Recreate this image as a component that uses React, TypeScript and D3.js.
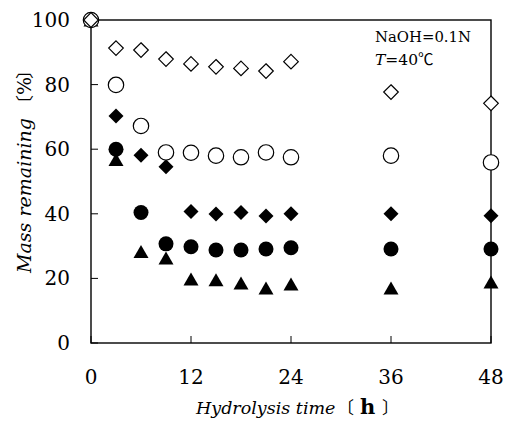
import React from "react";
import * as d3 from "d3";

const hours = [0, 3, 6, 9, 12, 15, 18, 21, 24, 36, 48];
const openDiamond = [100, 91.3, 90.7, 87.9, 86.4, 85.5, 85, 84.2, 87.1, 77.7, 74.2];
const openCircle = [100, 79.9, 67.2, 59, 58.9, 58, 57.5, 59, 57.5, 58, 55.9];
const filledDiamond = [100, 70.3, 58.1, 54.6, 40.7, 39.9, 40.4, 39.3, 40, 40, 39.4];
const filledCircle = [100, 60, 40.4, 30.7, 29.8, 28.8, 28.8, 29.1, 29.5, 29.1, 29.1];
const filledTriangle = [100, 56.8, 28.3, 26.3, 19.8, 19.6, 18.6, 17, 18.3, 17, 18.9];

const xTicks = [0, 12, 24, 36, 48];
const yTicks = [0, 20, 40, 60, 80, 100];

const W = 506;
const H = 421;
const FONT = "'DejaVu Serif', 'Liberation Serif', serif";
const CJK = "'Noto Sans CJK JP', serif";

export default function App() {
  const x = d3.scaleLinear().domain([0, 48]).range([91, 491]);
  const y = d3.scaleLinear().domain([0, 100]).range([343, 20]);
  const x0 = x(0), x1 = x(48), y0 = y(0), y1 = y(100);

  const diamond = (cx: number, cy: number, r: number) =>
    `M${cx},${cy - r}L${cx + r},${cy}L${cx},${cy + r}L${cx - r},${cy}Z`;
  const triangle = (cx: number, cy: number, w: number, h: number) =>
    `M${cx},${cy - h / 2}L${cx + w / 2},${cy + h / 2}L${cx - w / 2},${cy + h / 2}Z`;

  return (
    <svg width={W} height={H} style={{ position: "absolute", left: 0, top: 0, background: "#fff" }}>
      <rect x={0} y={0} width={W} height={H} fill="#fff" />
      {/* frame */}
      <rect x={x0} y={y1} width={x1 - x0} height={y0 - y1} fill="none" stroke="#000" strokeWidth={1.4} />
      {/* y ticks */}
      {yTicks.map((t) => (
        <g key={"y" + t}>
          <line x1={x0} x2={x0 + 7} y1={y(t)} y2={y(t)} stroke="#000" strokeWidth={1} />
          <text x={70} y={y(t) + 7} textAnchor="end" fontFamily={FONT} fontSize={20} fill="#000">
            {t}
          </text>
        </g>
      ))}
      {/* x ticks */}
      {xTicks.map((t) => (
        <g key={"x" + t}>
          <line x1={x(t)} x2={x(t)} y1={y0} y2={y0 - 7} stroke="#000" strokeWidth={1} />
          <text x={x(t)} y={384} textAnchor="middle" fontFamily={FONT} fontSize={20} fill="#000">
            {t}
          </text>
        </g>
      ))}
      {/* x axis title */}
      <text y={414} fontFamily={FONT} fontSize={19} fill="#000">
        <tspan x={196} fontStyle="italic" fontSize={17.5}>
          Hydrolysis time
        </tspan>
        <tspan x={337} fontFamily={CJK} fontSize={17}>〔</tspan>
        <tspan x={360} fontWeight="bold" fontSize={21}>h</tspan>
        <tspan x={382} fontFamily={CJK} fontSize={17}>〕</tspan>
      </text>
      {/* y axis title */}
      <text transform="translate(31,273) rotate(-90)" y={0} fontFamily={FONT} fontSize={19} fill="#000">
        <tspan x={0} fontStyle="italic" textLength={155} lengthAdjust="spacingAndGlyphs">
          Mass remaining
        </tspan>
        <tspan x={160} fontFamily={CJK} fontSize={18}>〔</tspan>
        <tspan x={178}>%</tspan>
        <tspan x={194} fontFamily={CJK} fontSize={18}>〕</tspan>
      </text>
      {/* annotation */}
      <text x={375} y={42} fontFamily={FONT} fontSize={15.5} fill="#000" textLength={96} lengthAdjust="spacingAndGlyphs">
        NaOH=0.1N
      </text>
      <text x={375} y={65} fontFamily={FONT} fontSize={15.5} fill="#000">
        <tspan fontStyle="italic">T</tspan>
        <tspan>=40</tspan>
        <tspan fontFamily={CJK}>℃</tspan>
      </text>
      {/* markers */}
      {hours.map((h, i) => (
        <path key={"tr" + i} d={triangle(x(h), y(filledTriangle[i]), 15, 13)} fill="#000" />
      ))}
      {hours.map((h, i) => (
        <circle key={"fc" + i} cx={x(h)} cy={y(filledCircle[i])} r={7.5} fill="#000" />
      ))}
      {hours.map((h, i) => (
        <path key={"fd" + i} d={diamond(x(h), y(filledDiamond[i]), 7.5)} fill="#000" />
      ))}
      {hours.map((h, i) => (
        <circle key={"oc" + i} cx={x(h)} cy={y(openCircle[i])} r={7.7} fill="#fff" stroke="#000" strokeWidth={1.2} />
      ))}
      {hours.map((h, i) => (
        <path key={"od" + i} d={diamond(x(h), y(openDiamond[i]), 7.3)} fill="#fff" stroke="#000" strokeWidth={1.2} />
      ))}
    </svg>
  );
}
